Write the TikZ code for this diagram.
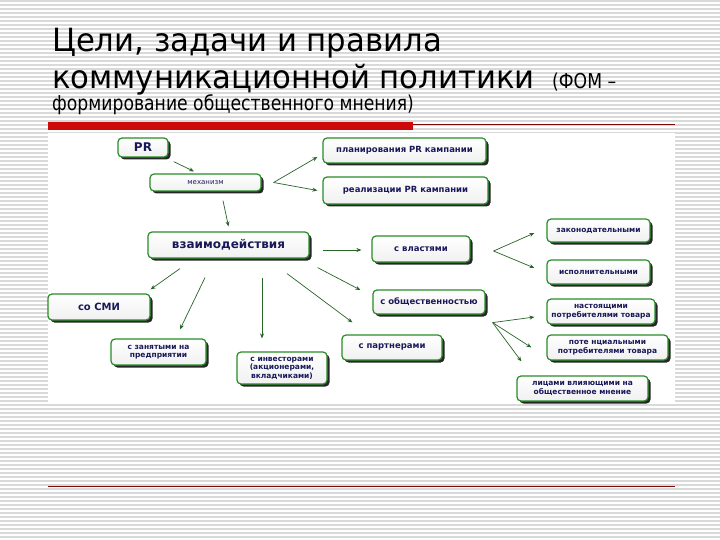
\documentclass[tikz,border=0pt]{standalone}
\usepackage{fontspec}
\setmainfont{DejaVu Sans}
\newfontfamily\titlefont[FakeStretch=0.96]{DejaVu Sans}
\newfontfamily\narrowfont[FakeStretch=0.84]{DejaVu Sans}
\usetikzlibrary{arrows.meta,shadows,calc}
\definecolor{boxgreen}{RGB}{40,140,40}
\definecolor{arrgreen}{RGB}{40,100,40}
\definecolor{txtnavy}{RGB}{25,25,90}
\definecolor{barred}{RGB}{205,10,10}
\definecolor{linered}{RGB}{120,10,10}

\begin{document}
\begin{tikzpicture}[x=1pt, y=-1pt,
    box/.style={draw=boxgreen, line width=1.2pt, rounded corners=4pt,
        top color=white, bottom color=green!4!black!6,
        drop shadow={shadow xshift=2.5pt, shadow yshift=-2.5pt, fill=black!85, opacity=1},
        text=txtnavy, font=\bfseries\fontsize{7.5}{8.5}\selectfont, align=center, inner sep=1pt},
    big/.style={font=\bfseries\fontsize{12}{13}\selectfont},
    mid/.style={font=\bfseries\fontsize{8.5}{9.5}\selectfont},
    ttl/.style={anchor=base west, inner sep=0, font=\titlefont\fontsize{32}{32}\selectfont},
    sub/.style={anchor=base west, inner sep=0, font=\narrowfont\fontsize{20.5}{21}\selectfont},
    arr/.style={draw=arrgreen, line width=0.7pt, -{Stealth[length=5pt,width=4pt]}}
    ]
    \useasboundingbox (0,0) rectangle (720,540);
    % striped slide background
    \foreach \yy in {1,5,...,537}
        \draw[gray!30, line width=1.3pt] (0,\yy) -- (720,\yy);
    \fill[white] (48,133) rectangle (675,404);

    % title
    \node[ttl] (t1) at (52,52) {Цели, задачи и правила};
    \node[ttl] (t2) at (52,89) {коммуникационной политики};
    \node[sub] (t3) at (552,89) {(ФОМ –};
    \node[sub] (t4) at (52,111) {формирование общественного мнения)};
    \fill[barred] (48,122) rectangle (413,130);
    \draw[linered, line width=0.8pt] (413,124.5) -- (675,124.5);
    \draw[linered, line width=0.8pt] (48,486) -- (675,486);

    % boxes
    \node[box, big, minimum width=50, minimum height=19] (pr) at (143,147.5) {PR};
    \node[box, font=\fontsize{7}{8}\selectfont, minimum width=111, minimum height=17] (mech) at (205.5,182.5) {механизм};
    \node[box, mid, minimum width=163, minimum height=25] (plan) at (404.5,150.5) {планирования PR кампании};
    \node[box, mid, minimum width=165, minimum height=27] (real) at (405.5,190.5) {реализации PR кампании};
    \node[box, big, minimum width=161, minimum height=26] (vzaim) at (228.5,245) {взаимодействия};
    \node[box, mid, minimum width=98, minimum height=26] (vlast) at (421,249) {с властями};
    \node[box, minimum width=103, minimum height=23] (zakon) at (598.5,230.5) {законодательными};
    \node[box, minimum width=103, minimum height=24] (ispol) at (598.5,272) {исполнительными};
    \node[box, mid, minimum width=112, minimum height=24] (obsch) at (429,302) {с общественностью};
    \node[box, minimum width=108, minimum height=25] (nast) at (601,311.5) {настоящими\\потребителями товара};
    \node[box, minimum width=121, minimum height=25] (potenc) at (607.5,347.5) {поте нциальными\\потребителями товара};
    \node[box, minimum width=131, minimum height=25] (lica) at (582.5,388.5) {лицами влияющими на\\общественное мнение};
    \node[box, mid, minimum width=100, minimum height=25] (partn) at (392,347.5) {с партнерами};
    \node[box, minimum width=90, minimum height=32] (invest) at (282,368) {с инвесторами\\(акционерами,\\вкладчиками)};
    \node[box, minimum width=95, minimum height=26] (zanyat) at (158.5,352) {с занятыми на\\предприятии};
    \node[box, font=\bfseries\fontsize{10}{11}\selectfont, minimum width=102, minimum height=26] (smi) at (99,307) {со СМИ};

    % arrows
    \draw[arr] ($(pr.south east)+(5,4)$) -- ($(mech.north)+(-11.5,-2)$);
    \draw[arr] ($(mech.east)+(12,0)$) -- ($(plan.west)+(-5,6.5)$);
    \draw[arr] ($(mech.east)+(12,0)$) -- ($(real.west)+(-5,0)$);
    \draw[arr] ($(mech.south)+(17.5,9)$) -- ($(vzaim.north)+(0,-5)$);
    \draw[arr] ($(vzaim.east)+(13,5)$) -- ($(vlast.west)+(-10,1)$);
    \draw[arr] ($(vzaim.south)+(-48.5,10)$) -- ($(smi.north east)+(0,-4)$);
    \draw[arr] ($(vzaim.south)+(-23.5,19)$) -- ($(zanyat.north)+(21.5,-9)$);
    \draw[arr] ($(vzaim.south)+(33.5,19)$) -- ($(invest.north)+(-20,-13)$);
    \draw[arr] ($(vzaim.south)+(58.5,15)$) -- ($(partn.north west)+(11,-12)$);
    \draw[arr] ($(vzaim.south east)+(8,9)$) -- ($(obsch.west)+(-12,-12)$);
    \draw[arr] ($(vlast.east)+(23,2)$) -- ($(zakon.west)+(-12,2.5)$);
    \draw[arr] ($(vlast.east)+(23,2)$) -- ($(ispol.west)+(-12,-4)$);
    \draw[arr] ($(obsch.south east)+(7,8)$) -- ($(nast.west)+(-12,5.5)$);
    \draw[arr] ($(obsch.south east)+(7,8)$) -- ($(potenc.west)+(-15,0)$);
    \draw[arr] ($(obsch.south east)+(7,8)$) -- ($(lica.north west)+(5,-14)$);
\end{tikzpicture}
\end{document}
